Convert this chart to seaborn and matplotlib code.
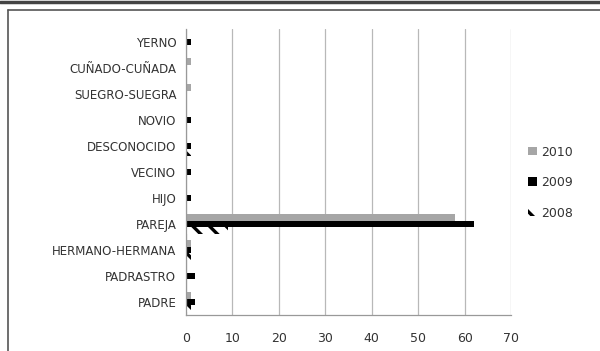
import matplotlib
matplotlib.use("Agg")
import matplotlib.pyplot as plt
import seaborn as sns
import pandas as pd
from matplotlib.lines import Line2D
from matplotlib.patches import Patch

categories = ["YERNO", "CUÑADO-CUÑADA", "SUEGRO-SUEGRA", "NOVIO", "DESCONOCIDO",
              "VECINO", "HIJO", "PAREJA", "HERMANO-HERMANA", "PADRASTRO", "PADRE"]
years = ["2010", "2009", "2008"]
values_2010 = [0, 1, 1, 0, 0, 0, 0, 58, 1, 0, 1]
values_2009 = [1, 0, 0, 1, 1, 1, 1, 62, 1, 2, 2]
values_2008 = [0, 0, 0, 0, 1, 0, 0, 9, 1, 0, 1]
x_ticks = [0, 10, 20, 30, 40, 50, 60, 70]

rows = []
for yr, vals in zip(years, [values_2010, values_2009, values_2008]):
    for c, v in zip(categories, vals):
        rows.append({"cat": c, "year": yr, "value": v})
df = pd.DataFrame(rows)

sns.set_style("white")
plt.rcParams["font.family"] = ["DejaVu Sans"]
plt.rcParams["hatch.linewidth"] = 2.4

fig = plt.figure(figsize=(6.0, 3.51), dpi=100)
ax = fig.add_axes([0.31, 0.1026, 0.5417, 0.8148])

gray = "#a6a6a6"
palette = {"2010": gray, "2009": "#000000", "2008": "#ffffff"}
sns.barplot(data=df, y="cat", x="value", hue="year", order=categories,
            hue_order=years, palette=palette, orient="h", width=0.75,
            saturation=1, dodge=True, legend=False, ax=ax, linewidth=0)

# hatch the 2008 bars
hatch = "\\\\"
for bar in ax.containers[2]:
    bar.set_hatch(hatch)
    bar.set_edgecolor("#000000")
    bar.set_linewidth(0)

ax.set_xlim(0, 70)
ax.set_xticks(x_ticks)
ax.set_xticklabels([str(t) for t in x_ticks], fontsize=9, color="#333333")
ax.set_xlabel("")
ax.set_ylabel("")
ax.set_ylim(len(categories) - 0.5, -0.5)
ax.set_yticks(range(len(categories)))
ax.set_yticklabels(categories, fontsize=8.5, color="#333333")
ax.tick_params(axis="y", length=0, pad=7)
ax.set_yticks([i - 0.5 for i in range(len(categories) + 1)], minor=True)
ax.tick_params(axis="y", which="minor", length=6, width=0.8, color="#999999", direction="out")
ax.tick_params(axis="x", length=6, width=0.8, color="#999999", direction="out", pad=6)

ax.grid(axis="x", color="#b8b8b8", linewidth=0.9)
ax.grid(axis="y", visible=False)
ax.set_axisbelow(True)
for side in ["top", "right"]:
    ax.spines[side].set_visible(False)
for side in ["left", "bottom"]:
    ax.spines[side].set_color("#999999")
    ax.spines[side].set_linewidth(0.9)

handles = [Patch(facecolor=gray, edgecolor="none"),
           Patch(facecolor="#000000", edgecolor="none"),
           Patch(facecolor="white", edgecolor="#000000", hatch=hatch, linewidth=0)]
fig.legend(handles, years, loc="center left", bbox_to_anchor=(0.862, 0.48),
           frameon=False, fontsize=9, handlelength=0.65, handleheight=0.65,
           labelspacing=1.4, handletextpad=0.35, labelcolor="#333333")

# outer frame
fig.add_artist(Line2D([0, 1], [0.995, 0.995], color="#444444", linewidth=2.5,
                      transform=fig.transFigure))
fig.add_artist(Line2D([0.0135, 1], [0.972, 0.972], color="#555555", linewidth=1.2,
                      transform=fig.transFigure))
fig.add_artist(Line2D([0.0135, 0.0135], [0, 0.972], color="#555555", linewidth=1.2,
                      transform=fig.transFigure))

fig.savefig("out.png", dpi=100)
